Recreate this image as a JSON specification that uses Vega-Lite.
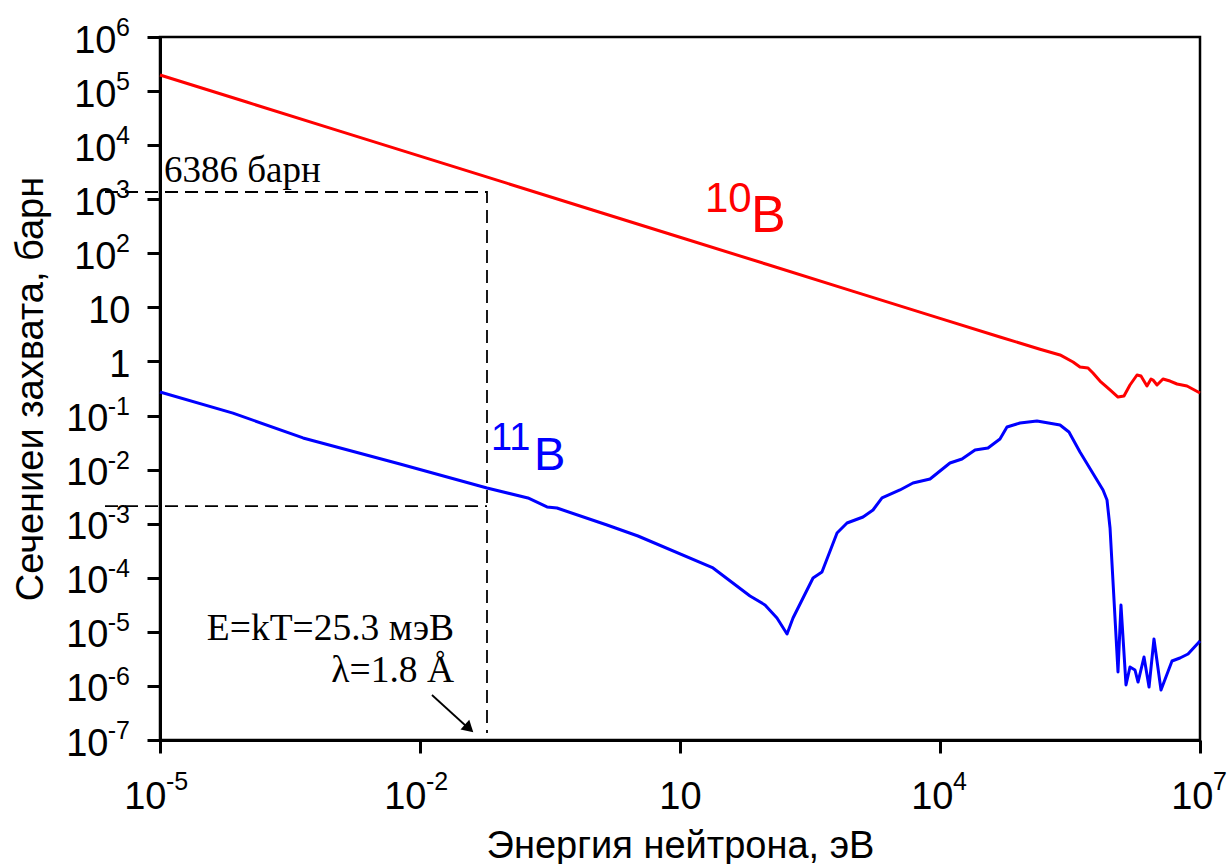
{
  "$schema": "https://vega.github.io/schema/vega-lite/v6.json",
  "width": 1040,
  "height": 703,
  "autosize": "none",
  "padding": {"left": 160, "top": 37, "right": 32, "bottom": 124},
  "background": "white",
  "config": {"view": {"stroke": "black", "strokeWidth": 2.5}, "font": "Liberation Sans"},
  "datasets": {
    "curves": [
      {"E": 1e-5, "s": 198000, "iso": "10B"}, {"E": 1e-4, "s": 62700, "iso": "10B"}, {"E": 1e-3, "s": 19800, "iso": "10B"},
      {"E": 1e-2, "s": 6270, "iso": "10B"}, {"E": 0.1, "s": 1980, "iso": "10B"}, {"E": 1, "s": 627, "iso": "10B"},
      {"E": 10, "s": 198, "iso": "10B"}, {"E": 100, "s": 62.7, "iso": "10B"}, {"E": 1000, "s": 19.8, "iso": "10B"},
      {"E": 10000, "s": 6.27, "iso": "10B"}, {"E": 49200, "s": 2.83, "iso": "10B"}, {"E": 142600, "s": 1.68, "iso": "10B"},
      {"E": 242700, "s": 1.32, "iso": "10B"}, {"E": 342800, "s": 0.977, "iso": "10B"}, {"E": 412100, "s": 0.79, "iso": "10B"},
      {"E": 510500, "s": 0.757, "iso": "10B"}, {"E": 582100, "s": 0.612, "iso": "10B"}, {"E": 701500, "s": 0.435, "iso": "10B"},
      {"E": 916000, "s": 0.297, "iso": "10B"}, {"E": 1132000, "s": 0.22, "iso": "10B"}, {"E": 1327000, "s": 0.23, "iso": "10B"},
      {"E": 1556000, "s": 0.367, "iso": "10B"}, {"E": 1875000, "s": 0.562, "iso": "10B"}, {"E": 2084000, "s": 0.539, "iso": "10B"},
      {"E": 2443000, "s": 0.352, "iso": "10B"}, {"E": 2723000, "s": 0.474, "iso": "10B"}, {"E": 2871000, "s": 0.454, "iso": "10B"},
      {"E": 3192000, "s": 0.367, "iso": "10B"}, {"E": 3741000, "s": 0.474, "iso": "10B"}, {"E": 4508000, "s": 0.435, "iso": "10B"},
      {"E": 5433000, "s": 0.383, "iso": "10B"}, {"E": 7079000, "s": 0.352, "iso": "10B"}, {"E": 10000000, "s": 0.261, "iso": "10B"},
      {"E": 1e-5, "s": 0.272, "iso": "11B"}, {"E": 6.95e-5, "s": 0.111, "iso": "11B"}, {"E": 4.47e-4, "s": 0.0385, "iso": "11B"},
      {"E": 5.87e-3, "s": 0.0127, "iso": "11B"}, {"E": 0.0593, "s": 0.00457, "iso": "11B"}, {"E": 0.176, "s": 0.00299, "iso": "11B"},
      {"E": 0.292, "s": 0.00204, "iso": "11B"}, {"E": 0.381, "s": 0.00195, "iso": "11B"}, {"E": 1.439, "s": 0.000946, "iso": "11B"},
      {"E": 3.273, "s": 0.000592, "iso": "11B"}, {"E": 24.04, "s": 0.000152, "iso": "11B"}, {"E": 64.27, "s": 0.000046, "iso": "11B"},
      {"E": 95.7, "s": 0.0000314, "iso": "11B"}, {"E": 131.5, "s": 0.000018, "iso": "11B"}, {"E": 171.8, "s": 0.00000912, "iso": "11B"},
      {"E": 201.4, "s": 0.000018, "iso": "11B"}, {"E": 342.8, "s": 0.000099, "iso": "11B"}, {"E": 434.5, "s": 0.000128, "iso": "11B"},
      {"E": 648.6, "s": 0.000673, "iso": "11B"}, {"E": 845.3, "s": 0.00103, "iso": "11B"}, {"E": 1294, "s": 0.00133, "iso": "11B"},
      {"E": 1687, "s": 0.00179, "iso": "11B"}, {"E": 2143, "s": 0.00299, "iso": "11B"}, {"E": 3451, "s": 0.0042, "iso": "11B"},
      {"E": 4875, "s": 0.00566, "iso": "11B"}, {"E": 7674, "s": 0.00671, "iso": "11B"}, {"E": 13030, "s": 0.01324, "iso": "11B"},
      {"E": 17950, "s": 0.0157, "iso": "11B"}, {"E": 25350, "s": 0.0231, "iso": "11B"}, {"E": 35810, "s": 0.0251, "iso": "11B"},
      {"E": 49200, "s": 0.0368, "iso": "11B"}, {"E": 59290, "s": 0.0614, "iso": "11B"}, {"E": 83750, "s": 0.0728, "iso": "11B"},
      {"E": 131500, "s": 0.0793, "iso": "11B"}, {"E": 242700, "s": 0.0668, "iso": "11B"}, {"E": 307600, "s": 0.0497, "iso": "11B"},
      {"E": 412100, "s": 0.0212, "iso": "11B"}, {"E": 760300, "s": 0.0042, "iso": "11B"}, {"E": 845300, "s": 0.00274, "iso": "11B"},
      {"E": 916200, "s": 0.000832, "iso": "11B"}, {"E": 1132000, "s": 0.00000181, "iso": "11B"}, {"E": 1225000, "s": 0.0000314, "iso": "11B"},
      {"E": 1400000, "s": 0.00000104, "iso": "11B"}, {"E": 1556000, "s": 0.00000224, "iso": "11B"}, {"E": 1778000, "s": 0.00000197, "iso": "11B"},
      {"E": 1928000, "s": 0.00000118, "iso": "11B"}, {"E": 2259000, "s": 0.00000343, "iso": "11B"}, {"E": 2582000, "s": 0.000000955, "iso": "11B"},
      {"E": 2944000, "s": 0.00000738, "iso": "11B"}, {"E": 3548000, "s": 0.000000841, "iso": "11B"}, {"E": 4753000, "s": 0.00000289, "iso": "11B"},
      {"E": 5875000, "s": 0.00000328, "iso": "11B"}, {"E": 7278000, "s": 0.00000389, "iso": "11B"}, {"E": 10000000, "s": 0.00000678, "iso": "11B"}
    ],
    "guides": [
      {"E": 0.00000232, "s": 1361, "seg": "a", "o": 1},
      {"E": 0.0593, "s": 1361, "seg": "a", "o": 2},
      {"E": 0.0593, "s": 0.000000135, "seg": "a", "o": 3},
      {"E": 0.00000232, "s": 0.00212, "seg": "b", "o": 1},
      {"E": 0.0593, "s": 0.00212, "seg": "b", "o": 2}
    ],
    "arrow": [
      {"E": 0.01374, "s": 0.000000679, "o": 1},
      {"E": 0.03396, "s": 0.0000001816, "o": 2}
    ],
    "arrowhead": [{"E": 0.03685, "s": 0.000000164}],
    "yexp": [
      {"v": 1e6, "e": "6"}, {"v": 1e5, "e": "5"}, {"v": 1e4, "e": "4"}, {"v": 1e3, "e": "3"}, {"v": 1e2, "e": "2"},
      {"v": 0.1, "e": "-1"}, {"v": 0.01, "e": "-2"}, {"v": 0.001, "e": "-3"}, {"v": 0.0001, "e": "-4"},
      {"v": 0.00001, "e": "-5"}, {"v": 0.000001, "e": "-6"}, {"v": 0.0000001, "e": "-7"}
    ],
    "xexp": [
      {"v": 0.00001, "e": "-5", "sign": "neg"}, {"v": 0.01, "e": "-2", "sign": "neg"},
      {"v": 10000, "e": "4", "sign": "pos"}, {"v": 10000000, "e": "7", "sign": "pos"}
    ],
    "isolabels": [
      {"E": 19.43, "s": 580, "t": "10", "part": "sup10"},
      {"E": 65.9, "s": 247.7, "t": "B", "part": "B10"},
      {"E": 0.0659, "s": 0.02307, "t": "11", "part": "sup11"},
      {"E": 0.2067, "s": 0.00984, "t": "B", "part": "B11"}
    ],
    "notes": [
      {"E": 0.00001112, "s": 2084, "t": "6386 барн", "kind": "left"},
      {"E": 0.02468, "s": 0.00000707, "t": "E=kT=25.3 мэВ", "kind": "right"},
      {"E": 0.02468, "s": 0.000001183, "t": "λ=1.8 Å", "kind": "right"}
    ]
  },
  "layer": [
    {
      "data": {"name": "curves"},
      "mark": {"type": "line", "strokeWidth": 3, "interpolate": "linear", "strokeJoin": "round"},
      "encoding": {
        "x": {
          "field": "E", "type": "quantitative",
          "scale": {"type": "log", "domain": [0.00001, 10000000], "nice": false},
          "axis": {
            "values": [0.00001, 0.01, 10, 10000, 10000000],
            "labelExpr": "'10'",
            "grid": false,
            "domainColor": "black", "domainWidth": 3,
            "tickColor": "black", "tickWidth": 3, "tickSize": 13,
            "labelFont": "Liberation Sans", "labelFontSize": 38, "labelColor": "black",
            "labelBaseline": "alphabetic", "labelPadding": 55,
            "labelAlign": {"condition": {"test": "datum.value == 10", "value": "center"}, "value": "right"},
            "labelOffset": {"condition": [{"test": "datum.value == 10", "value": 0}, {"test": "datum.value < 1", "value": 6}], "value": 13},
            "labelFlush": false, "labelOverlap": false,
            "title": "Энергия нейтрона, эВ",
            "titleFont": "Liberation Sans", "titleFontSize": 38, "titleFontWeight": "normal", "titleColor": "black",
            "titleBaseline": "alphabetic", "titleY": 117, "titleX": 520, "titleAlign": "center"
          }
        },
        "y": {
          "field": "s", "type": "quantitative",
          "scale": {"type": "log", "domain": [0.0000001, 1000000], "nice": false},
          "axis": {
            "values": [0.0000001, 0.000001, 0.00001, 0.0001, 0.001, 0.01, 0.1, 1, 10, 100, 1000, 10000, 100000, 1000000],
            "labelExpr": "datum.value == 1 ? '1' : '10'",
            "grid": false,
            "domainColor": "black", "domainWidth": 3,
            "tickColor": "black", "tickWidth": 3, "tickSize": 13,
            "labelFont": "Liberation Sans", "labelFontSize": 38, "labelColor": "black",
            "labelAlign": "right", "labelBaseline": "alphabetic", "labelOffset": 15,
            "labelPadding": {"condition": [{"test": "datum.value == 1 || datum.value == 10", "value": 17}, {"test": "datum.value < 1", "value": 39}], "value": 31},
            "labelFlush": false, "labelOverlap": false,
            "title": "Сечениеи захвата, барн",
            "titleFont": "Liberation Sans", "titleFontSize": 38, "titleFontWeight": "normal", "titleColor": "black",
            "titleBaseline": "alphabetic", "titleAngle": -90, "titleX": -118, "titleY": 351.5, "titleAlign": "center"
          }
        },
        "color": {"field": "iso", "type": "nominal", "scale": {"domain": ["10B", "11B"], "range": ["#ff0000", "#0000ff"]}, "legend": null}
      }
    },
    {
      "data": {"name": "guides"},
      "mark": {"type": "line", "color": "black", "strokeWidth": 1.8, "strokeDash": [13, 7], "clip": false},
      "encoding": {
        "x": {"field": "E", "type": "quantitative"},
        "y": {"field": "s", "type": "quantitative"},
        "detail": {"field": "seg"},
        "order": {"field": "o"}
      }
    },
    {
      "data": {"name": "arrow"},
      "mark": {"type": "line", "color": "black", "strokeWidth": 1.8},
      "encoding": {
        "x": {"field": "E", "type": "quantitative"},
        "y": {"field": "s", "type": "quantitative"},
        "order": {"field": "o"}
      }
    },
    {
      "data": {"name": "arrowhead"},
      "mark": {"type": "point", "shape": "triangle-up", "filled": true, "color": "black", "size": 170, "angle": 132, "opacity": 1},
      "encoding": {
        "x": {"field": "E", "type": "quantitative"},
        "y": {"field": "s", "type": "quantitative"}
      }
    },
    {
      "data": {"name": "yexp"},
      "mark": {"type": "text", "align": "right", "baseline": "alphabetic", "dx": -30, "dy": -1, "fontSize": 25, "font": "Liberation Sans", "color": "black"},
      "encoding": {
        "x": {"datum": 0.00001, "type": "quantitative"},
        "y": {"field": "v", "type": "quantitative"},
        "text": {"field": "e"}
      }
    },
    {
      "data": {"name": "xexp"},
      "transform": [{"filter": "datum.sign == 'neg'"}],
      "mark": {"type": "text", "align": "left", "baseline": "alphabetic", "dx": 6, "dy": 50, "fontSize": 25, "font": "Liberation Sans", "color": "black"},
      "encoding": {
        "x": {"field": "v", "type": "quantitative"},
        "y": {"datum": 0.0000001, "type": "quantitative"},
        "text": {"field": "e"}
      }
    },
    {
      "data": {"name": "xexp"},
      "transform": [{"filter": "datum.sign == 'pos'"}],
      "mark": {"type": "text", "align": "left", "baseline": "alphabetic", "dx": 13, "dy": 50, "fontSize": 25, "font": "Liberation Sans", "color": "black"},
      "encoding": {
        "x": {"field": "v", "type": "quantitative"},
        "y": {"datum": 0.0000001, "type": "quantitative"},
        "text": {"field": "e"}
      }
    },
    {
      "data": {"name": "isolabels"},
      "transform": [{"filter": "datum.part == 'sup10'"}],
      "mark": {"type": "text", "align": "left", "baseline": "alphabetic", "fontSize": 42, "font": "Liberation Sans", "color": "#ff0000"},
      "encoding": {"x": {"field": "E", "type": "quantitative"}, "y": {"field": "s", "type": "quantitative"}, "text": {"field": "t"}}
    },
    {
      "data": {"name": "isolabels"},
      "transform": [{"filter": "datum.part == 'B10'"}],
      "mark": {"type": "text", "align": "left", "baseline": "alphabetic", "fontSize": 52, "font": "Liberation Sans", "color": "#ff0000"},
      "encoding": {"x": {"field": "E", "type": "quantitative"}, "y": {"field": "s", "type": "quantitative"}, "text": {"field": "t"}}
    },
    {
      "data": {"name": "isolabels"},
      "transform": [{"filter": "datum.part == 'sup11'"}],
      "mark": {"type": "text", "align": "left", "baseline": "alphabetic", "fontSize": 38, "font": "Liberation Sans", "color": "#0000ff"},
      "encoding": {"x": {"field": "E", "type": "quantitative"}, "y": {"field": "s", "type": "quantitative"}, "text": {"field": "t"}}
    },
    {
      "data": {"name": "isolabels"},
      "transform": [{"filter": "datum.part == 'B11'"}],
      "mark": {"type": "text", "align": "left", "baseline": "alphabetic", "fontSize": 47, "font": "Liberation Sans", "color": "#0000ff"},
      "encoding": {"x": {"field": "E", "type": "quantitative"}, "y": {"field": "s", "type": "quantitative"}, "text": {"field": "t"}}
    },
    {
      "data": {"name": "notes"},
      "transform": [{"filter": "datum.kind == 'left'"}],
      "mark": {"type": "text", "align": "left", "baseline": "alphabetic", "fontSize": 37, "font": "Liberation Serif", "color": "black"},
      "encoding": {"x": {"field": "E", "type": "quantitative"}, "y": {"field": "s", "type": "quantitative"}, "text": {"field": "t"}}
    },
    {
      "data": {"name": "notes"},
      "transform": [{"filter": "datum.kind == 'right'"}],
      "mark": {"type": "text", "align": "right", "baseline": "alphabetic", "fontSize": 37.5, "font": "Liberation Serif", "color": "black"},
      "encoding": {"x": {"field": "E", "type": "quantitative"}, "y": {"field": "s", "type": "quantitative"}, "text": {"field": "t"}}
    }
  ]
}
